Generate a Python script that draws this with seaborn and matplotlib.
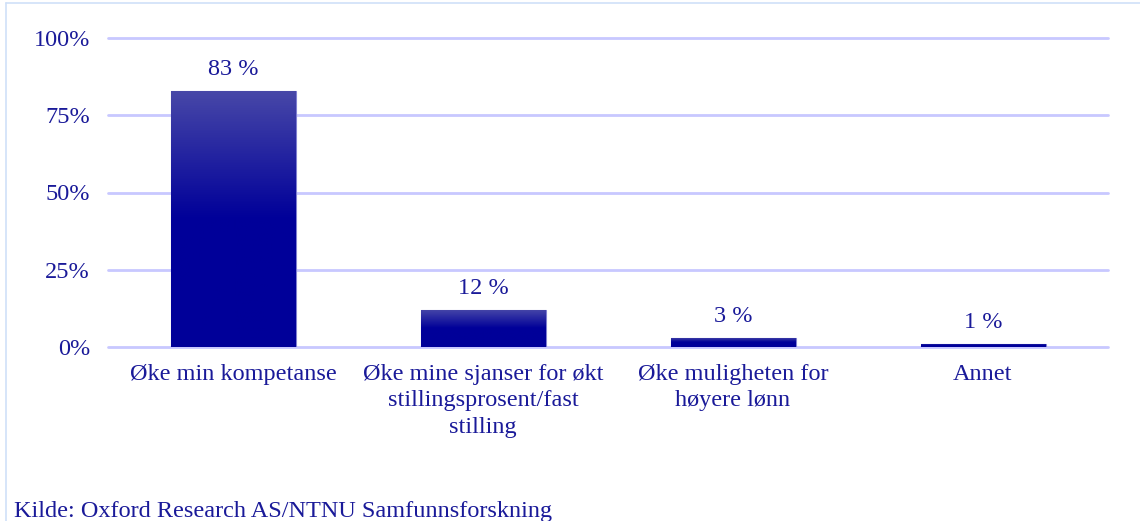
import numpy as np
import pandas as pd
import matplotlib
matplotlib.use("Agg")
import matplotlib.pyplot as plt
from matplotlib.lines import Line2D
import seaborn as sns

# Data
categories = ["Øke min kompetanse",
              "Øke mine sjanser for økt\nstillingsprosent/fast\nstilling",
              "Øke muligheten for\nhøyere lønn",
              "Annet"]
values = [83, 12, 3, 1]
source = "Kilde: Oxford Research AS/NTNU Samfunnsforskning"

df = pd.DataFrame({"kategori": categories, "andel": values})

text_color = "#1a1a99"
grid_color = "#c8c8ff"

sns.set_style("white")
plt.rcParams["font.family"] = ["Liberation Serif", "DejaVu Serif"]

fig = plt.figure(figsize=(11.4, 5.21), dpi=100)
ax = fig.add_axes([108 / 1140, 1 - 347 / 521, 1000 / 1140, (347 - 38) / 521])

sns.barplot(data=df, x="kategori", y="andel", color="#000099", width=0.5,
            saturation=1, ax=ax, zorder=3)

ax.set_ylim(0, 100)
ax.set_xlim(-0.5, 3.5)
ax.set_yticks([0, 25, 50, 75, 100])
ax.set_yticklabels([f"{t}%" for t in [0, 25, 50, 75, 100]])
ax.yaxis.grid(True, color=grid_color, linewidth=2, zorder=0)
for gl in ax.get_ygridlines():
    gl.set_clip_on(False)
ax.set_axisbelow(True)
for s in ax.spines.values():
    s.set_visible(False)
ax.set_xlabel("")
ax.set_ylabel("")
ax.tick_params(axis="both", length=0, labelsize=17.5, colors=text_color)
ax.tick_params(axis="x", pad=12)
ax.tick_params(axis="y", pad=13)
for lbl in ax.get_xticklabels():
    lbl.set_linespacing(1.35)
    lbl.set_verticalalignment("top")

# Gradient fill on the bars: lighter at the top, solid blue lower down
cmap = matplotlib.colors.LinearSegmentedColormap.from_list(
    "bar", ["#000099", "#000099", "#4848a8"])
grad = np.linspace(0, 1, 256).reshape(-1, 1)
for p in ax.patches:
    x0, y0 = p.get_x(), p.get_y()
    w, h = p.get_width(), p.get_height()
    p.set_edgecolor("#8080d0")
    p.set_linewidth(0.8)
    im = ax.imshow(grad, cmap=cmap, aspect="auto", origin="lower",
                   extent=[x0, x0 + w, y0, y0 + h], zorder=4)
    im.set_clip_path(p)
    ax.text(x0 + w / 2, h + 3.5, f"{h:.0f} %", ha="center", va="bottom",
            fontsize=17.5, color=text_color, zorder=5)

ax.set_xlim(-0.5, 3.5)
ax.set_ylim(0, 100)

# Light frame lines at the left and top edges
fig.add_artist(Line2D([6 / 1140, 6 / 1140], [0, 1 - 3 / 521],
                      transform=fig.transFigure, color="#cfe0f8", linewidth=1.2))
fig.add_artist(Line2D([6 / 1140, 1], [1 - 3 / 521, 1 - 3 / 521],
                      transform=fig.transFigure, color="#cfe0f8", linewidth=1.2))

fig.text(14 / 1140, 1 - 517 / 521, source, fontsize=17.5, color=text_color,
         ha="left", va="baseline")

fig.savefig("out.png", dpi=100)
